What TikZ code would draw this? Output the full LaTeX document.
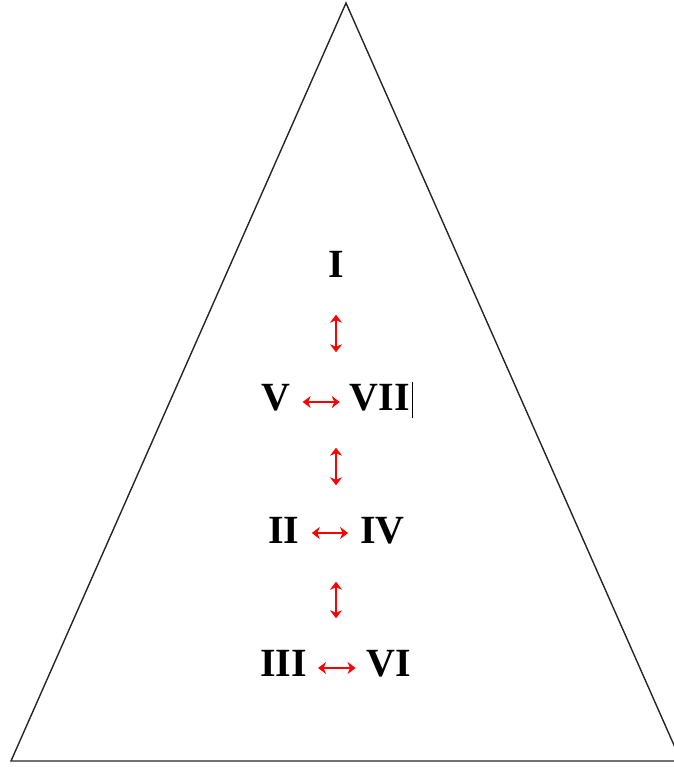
\documentclass[tikz,border=0pt]{standalone}
\usepackage{fontspec}
\setmainfont{Liberation Serif}
\usetikzlibrary{arrows.meta}
\begin{document}
\begin{tikzpicture}[x=1pt,y=-1pt,
  num/.style={font=\fontsize{40}{40}\selectfont\bfseries, inner sep=0pt, text height=27pt, text depth=0pt, anchor=center},
  biarrow/.style={red, line width=1.7pt, {Stealth[length=8pt,width=12pt,inset=2.5pt]}-{Stealth[length=8pt,width=12pt,inset=2.5pt]}},
  tri/.style={draw=black!85, line width=1.4pt}
]
\useasboundingbox (0,0) rectangle (673,767);
\draw[tri] (346,3) -- (11,761) -- (681,761) -- cycle;

\node[num] (I) at (336,264) {I};
\node[num] (V) at (276,397) {V};
\node[num] (VII) at (380,397) {VII};
\node[num] (II) at (284,530) {II};
\node[num] (IV) at (382.5,530) {IV};
\node[num] (III) at (283.5,663) {III};
\node[num] (VI) at (389,663) {VI};

% vertical arrows
\draw[biarrow, shorten <=37pt, shorten >=31pt] (I.south) -- (I.south |- V.north);
\draw[biarrow, shorten <=37pt, shorten >=31pt] (I.south |- V.south) -- (I.south |- II.north);
\draw[biarrow, shorten <=38pt, shorten >=31pt] (I.south |- II.south) -- (I.south |- III.north);

% horizontal arrows
\draw[biarrow, shorten <=12pt, shorten >=10pt] ([yshift=-5pt]V.east) -- ([yshift=-5pt]V.east -| VII.west);
\draw[biarrow, shorten <=12pt, shorten >=12pt] ([yshift=-3pt]II.east) -- ([yshift=-3pt]II.east -| IV.west);
\draw[biarrow, shorten <=11pt, shorten >=11pt] ([yshift=-5pt]III.east) -- ([yshift=-5pt]III.east -| VI.west);

% text cursor
\draw[black, line width=0.9pt] (412,382) -- (412,418);
\end{tikzpicture}
\end{document}
